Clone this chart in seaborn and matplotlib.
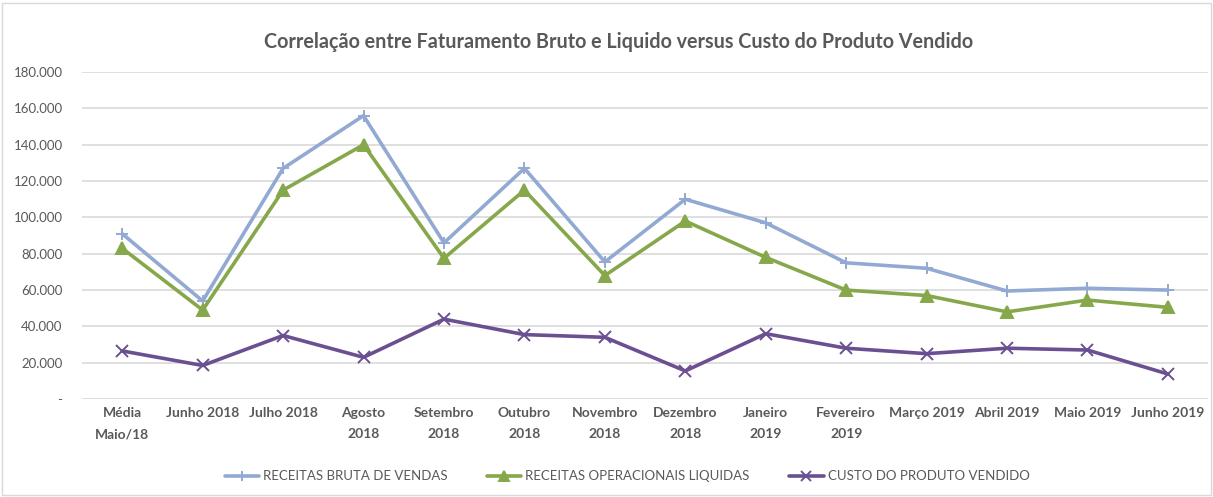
import pandas as pd
import matplotlib.pyplot as plt
import matplotlib.ticker as mticker
import seaborn as sns

meses = ["Média\nMaio/18", "Junho 2018", "Julho 2018", "Agosto\n2018", "Setembro\n2018",
         "Outubro\n2018", "Novembro\n2018", "Dezembro\n2018", "Janeiro\n2019",
         "Fevereiro\n2019", "Março 2019", "Abril 2019", "Maio 2019", "Junho 2019"]

receita_bruta = [91000, 54000, 127000, 156000, 86000, 127000, 75500, 110000, 97000,
                 75000, 72000, 59500, 61000, 60000]
receita_liquida = [83000, 49000, 115000, 140000, 77500, 115000, 68000, 98000, 78000,
                   60000, 57000, 48000, 54500, 50500]
custo_produto = [26500, 18500, 35000, 23000, 44000, 35500, 34000, 15500, 36000,
                 28000, 25000, 28000, 27000, 13800]

series_nomes = ["RECEITAS BRUTA DE VENDAS", "RECEITAS OPERACIONAIS LIQUIDAS",
                "CUSTO DO PRODUTO VENDIDO"]
cores = ["#92AAD3", "#86A84A", "#6B5091"]
marcadores = ["+", "^", "x"]

sns.set_theme(style="white")
plt.rcParams['font.family'] = ['Lato', 'DejaVu Sans']

fig = plt.figure(figsize=(12.13, 4.97), dpi=100)
ax = fig.add_axes([0.0676, 0.197, 0.9284, 0.658])

for nome, valores, cor, mk in zip(series_nomes, [receita_bruta, receita_liquida, custo_produto],
                                  cores, marcadores):
    d = pd.DataFrame({"mes": meses, "valor": valores})
    sns.lineplot(data=d, x="mes", y="valor", sort=False, color=cor, marker=mk,
                 linewidth=2.6, markersize=9, markeredgewidth=1.4,
                 markeredgecolor=cor, markerfacecolor=cor, label=nome, ax=ax)

ax.set_xlim(-0.5, len(meses) - 0.5)
ax.set_ylim(0, 180000)
ax.set_yticks(range(0, 180001, 20000))
ax.yaxis.set_major_formatter(mticker.FuncFormatter(
    lambda v, p: "-" if v == 0 else f"{int(v):,}".replace(",", ".")))
ax.grid(axis="y", color="#D9D9D9", linewidth=1.2)
ax.set_axisbelow(True)
for s in ax.spines.values():
    s.set_visible(False)
ax.set_xlabel("")
ax.set_ylabel("")
ax.tick_params(axis="y", labelsize=9.5, labelcolor="#595959", length=0, pad=14)
ax.tick_params(axis="x", labelsize=10, labelcolor="#595959", length=0, pad=6)
for t in ax.get_xticklabels():
    t.set_fontweight("bold")
    t.set_linespacing(1.9)

fig.suptitle("Correlação entre Faturamento Bruto e Liquido versus Custo do Produto Vendido",
             x=0.51, y=0.935, fontsize=14.2, fontweight="bold", color="#595959")

handles, labels = ax.get_legend_handles_labels()
ax.legend(handles, labels, loc="center", bbox_to_anchor=(0.484, -0.236), ncol=3,
          frameon=False, fontsize=9.5, labelcolor="#595959", handlelength=2.6,
          columnspacing=3.0, handletextpad=0.3, markerscale=0.75)

fig.patches.append(plt.Rectangle((0.002, 0.004), 0.996, 0.99, transform=fig.transFigure,
                                 fill=False, edgecolor="#D9D9D9", linewidth=1))

fig.savefig("out.png", dpi=100)
